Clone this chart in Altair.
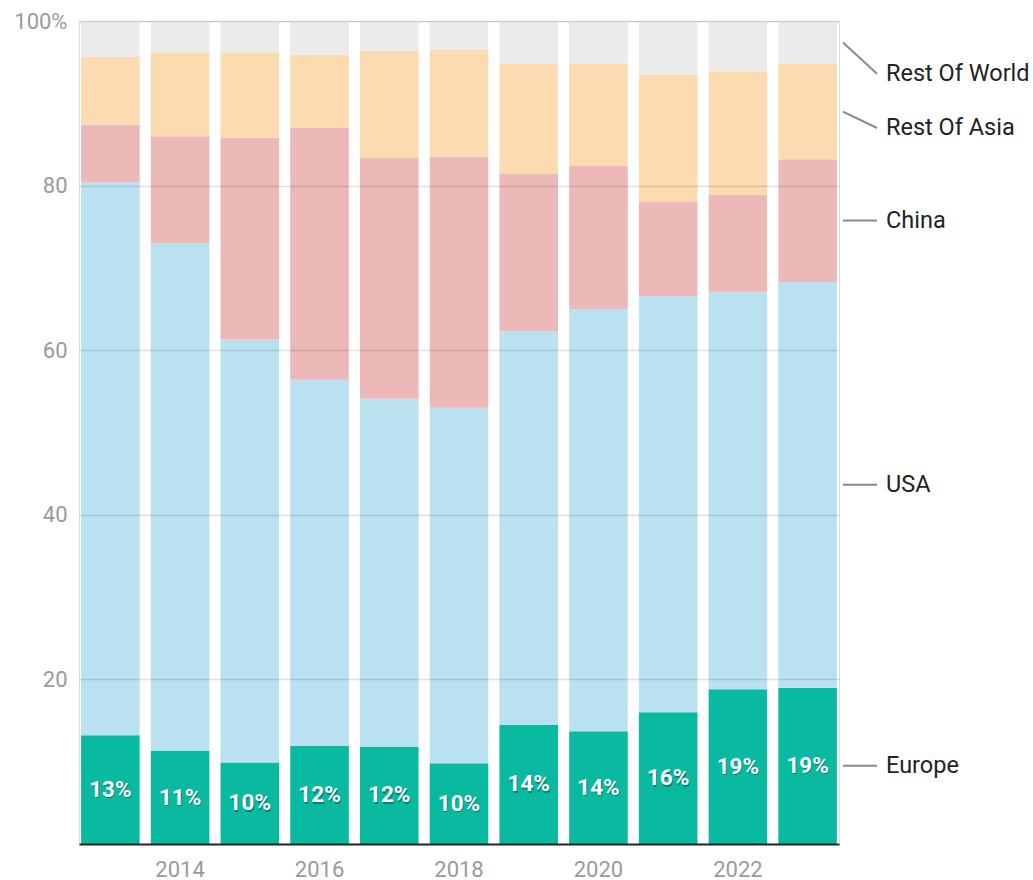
import altair as alt
import pandas as pd

years = list(range(2013, 2024))
series = ["Europe", "USA", "China", "Rest Of Asia", "Rest Of World"]
europe = [13.2, 11.3, 9.9, 11.9, 11.8, 9.8, 14.5, 13.7, 16.0, 18.8, 19.0]
usa = [67.2, 61.7, 51.4, 44.5, 42.3, 43.2, 47.8, 51.3, 50.6, 48.3, 49.3]
china = [7.0, 13.0, 24.5, 30.6, 29.3, 30.5, 19.1, 17.4, 11.4, 11.8, 14.9]
rest_asia = [8.3, 10.2, 10.4, 8.9, 13.0, 13.0, 13.4, 12.4, 15.5, 15.0, 11.6]
rest_world = [4.3, 3.8, 3.8, 4.1, 3.6, 3.5, 5.2, 5.2, 6.5, 6.1, 5.2]
colors = ["#0ABAA0", "#B9E1F0", "#ECB8B8", "#FBDBAF", "#EBEBEB"]
y_ticks = [20, 40, 60, 80, 100]

values = [europe, usa, china, rest_asia, rest_world]

rows = []
for i, yr in enumerate(years):
    base = 0.0
    for s, vals in zip(series, values):
        v = vals[i]
        rows.append({"year": yr, "series": s, "value": v, "y0": base, "y1": base + v,
                     "mid": base + v / 2, "label": f"{round(v)}%"})
        base += v
df = pd.DataFrame(rows)

# right-side labels for last year, pushed apart from the top down
last = df[df["year"] == years[-1]].copy()
label_ys = []
cap = 93.6
for _, r in last.iloc[::-1].iterrows():
    ly = min(r["mid"], cap)
    label_ys.append(ly)
    cap = ly - 6.6
last["label_y"] = list(reversed(label_ys))

W, H = 760, 823
FONT = "Roboto"

xenc = alt.X("year:O", title=None,
             scale=alt.Scale(paddingInner=0.16, paddingOuter=0.03),
             axis=alt.Axis(labelExpr="datum.value % 2 == 0 ? datum.label : ''",
                           labelAngle=0, ticks=False, domainColor="#222", domainWidth=2,
                           labelColor="#9a9a9a", labelFontSize=22, labelFont=FONT,
                           labelPadding=15, zindex=1))
yscale = alt.Scale(domain=[0, 100], nice=False)

bars = alt.Chart(df).mark_bar().encode(
    x=xenc,
    y=alt.Y("y0:Q", scale=yscale, title=None,
            axis=alt.Axis(values=y_ticks, labelExpr="datum.value == 100 ? '100%' : datum.label",
                          ticks=False, domain=False, gridColor="#000", gridOpacity=0.12,
                          gridWidth=1.5, labelColor="#9a9a9a", labelFontSize=22,
                          labelFont=FONT, labelPadding=12, zindex=1)),
    y2="y1:Q",
    color=alt.Color("series:N", scale=alt.Scale(domain=series, range=colors), legend=None),
)

eu = df[df["series"] == "Europe"]
shadow = alt.Chart(eu).mark_text(font=FONT, fontSize=22.5, fontWeight="bold", color="#000",
                                 opacity=0.3, dx=1, dy=1.5).encode(
    x=alt.X("year:O"), y=alt.Y("mid:Q", scale=yscale), text="label:N")
eu_text = alt.Chart(eu).mark_text(font=FONT, fontSize=22.5, fontWeight="bold", color="white").encode(
    x=alt.X("year:O"), y=alt.Y("mid:Q", scale=yscale), text="label:N")

leaders = alt.Chart(last).mark_rule(color="#8a8a8a", strokeWidth=2).encode(
    x=alt.value(W + 4), x2=alt.value(W + 38),
    y=alt.Y("mid:Q", scale=yscale), y2="label_y:Q")
rlabels = alt.Chart(last).mark_text(font=FONT, fontSize=23.5, color="#222", align="left",
                                    baseline="middle").encode(
    x=alt.value(W + 47), y=alt.Y("label_y:Q", scale=yscale), text="series:N")

chart = alt.layer(bars, shadow, eu_text, leaders, rlabels).properties(
    width=W, height=H,
    autosize=alt.AutoSizeParams(type="none"),
    padding={"left": 79, "top": 21, "right": 1033 - 79 - W, "bottom": 880 - 21 - H},
).configure_view(stroke=None).configure(background="white")

chart.save("out.html", embed_options={"renderer": "svg", "actions": False})
